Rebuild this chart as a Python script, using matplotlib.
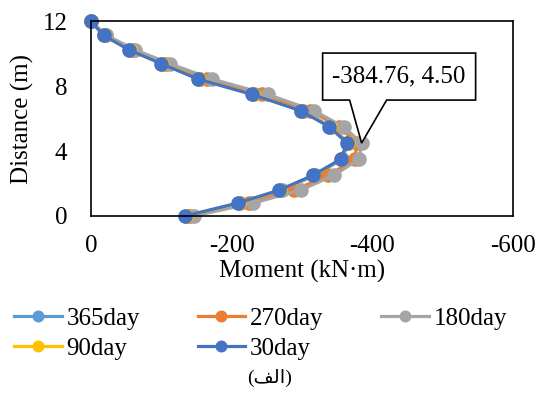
import matplotlib.pyplot as plt
import matplotlib.transforms as mtransforms
from matplotlib.patches import Polygon

# depth along the wall (m)
distance = [12, 11.15, 10.25, 9.4, 8.45, 7.5, 6.5, 5.5, 4.5, 3.5, 2.5, 1.6, 0.8, 0]

# bending moment (kN·m) for each time step
moment_365 = [0, -19, -56, -102, -155, -232, -301, -341, -366, -357, -318, -271, -212, -136]
moment_270 = [0, -21, -60, -107, -165, -243, -311, -353, -378, -375, -337, -289, -224, -141]
moment_180 = [0, -22, -63, -112, -172, -251, -317, -359, -384.76, -381, -345, -298, -231, -146]
moment_90 = [0, -18, -55, -101, -153, -230, -299, -340, -365, -356, -316, -269, -210, -135]
moment_30 = [0, -18, -54, -100, -152, -229, -298, -339, -364, -355, -315, -268, -209, -134]

series_labels = ["365day", "270day", "180day", "90day", "30day"]
series_colors = ["#5B9BD5", "#ED7D31", "#A5A5A5", "#FFC000", "#4472C4"]

x_ticks = [0, -200, -400, -600]
y_ticks = [0, 4, 8, 12]

# callout point (max of 180day)
peak_moment = -384.76
peak_distance = 4.5

plt.rcParams["font.family"] = ["Liberation Serif", "DejaVu Sans"]
plt.rcParams["font.size"] = 18

fig = plt.figure(figsize=(5.39, 3.98), dpi=100)
ax = fig.add_axes([0.1688, 0.4573, 0.7830, 0.4887])

all_series = [moment_365, moment_270, moment_180, moment_90, moment_30]
lines = []
for values, label, color in zip(all_series, series_labels, series_colors):
    (line,) = ax.plot(
        values,
        distance,
        color=color,
        linewidth=2.3,
        marker="o",
        markersize=9.5,
        label=label,
        clip_on=False,
    )
    lines.append(line)

ax.set_xlim(0, -600)
ax.set_ylim(0, 12)
ax.set_xticks(x_ticks)
ax.set_xticklabels([str(v) for v in x_ticks])
ax.set_yticks(y_ticks)
ax.tick_params(axis="both", length=0, labelsize=18)
ax.tick_params(axis="x", pad=14)
ax.tick_params(axis="y", pad=17)
for spine in ax.spines.values():
    spine.set_linewidth(1.2)
    spine.set_color("black")

ax.set_xlabel("Moment (kN·m)", fontsize=18, labelpad=2)
ax.set_ylabel("Distance (m)", fontsize=18, labelpad=6)

# callout box with pointer, drawn in inches relative to the peak point
callout_trans = fig.dpi_scale_trans + mtransforms.ScaledTranslation(
    peak_moment, peak_distance, ax.transData
)
callout = Polygon(
    [
        (0.0, 0.0),
        (-0.12, 0.43),
        (-0.39, 0.43),
        (-0.39, 0.90),
        (1.14, 0.90),
        (1.14, 0.43),
        (0.25, 0.43),
    ],
    closed=True,
    facecolor="white",
    edgecolor="black",
    linewidth=1.2,
    transform=callout_trans,
    clip_on=False,
    zorder=5,
)
ax.add_patch(callout)
ax.text(
    0.375,
    0.665,
    f"{peak_moment:.2f}, {peak_distance:.2f}",
    transform=callout_trans,
    ha="center",
    va="center",
    fontsize=18,
    zorder=6,
)

# legend filled row by row
order = [0, 3, 1, 4, 2]
fig.legend(
    [lines[i] for i in order],
    [series_labels[i] for i in order],
    loc="upper left",
    bbox_to_anchor=(0.0075, 0.252),
    ncol=3,
    frameon=False,
    fontsize=18,
    handlelength=1.9,
    handletextpad=0.2,
    columnspacing=2.3,
    labelspacing=0.28,
    borderaxespad=0.0,
    markerscale=0.8,
)

fig.text(0.5, 0.05, "(\uFED2\uFEDF\uFE8D)", ha="center", va="center", fontsize=14)

fig.savefig("out.png", dpi=100)
